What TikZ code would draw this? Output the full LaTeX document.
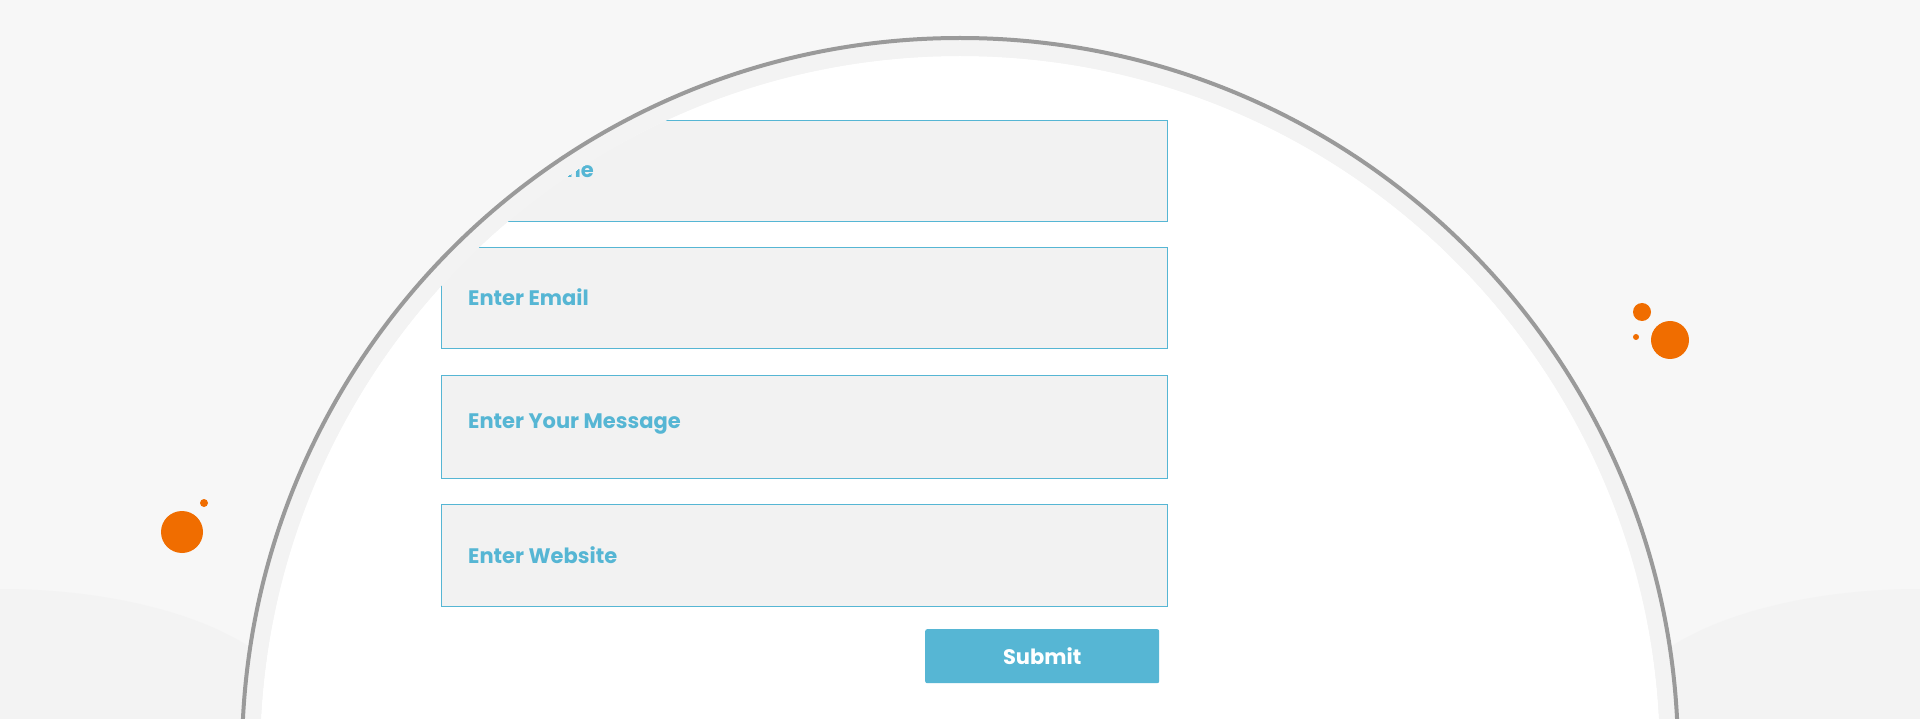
\documentclass[tikz,border=0pt]{standalone}
\usepackage{fontspec}
\setmainfont{Poppins}
\definecolor{bg}{HTML}{F7F7F7}
\definecolor{band}{HTML}{F3F3F3}
\definecolor{ring}{HTML}{9A9A9A}
\definecolor{fieldfill}{HTML}{F2F2F2}
\definecolor{blue}{HTML}{56B6D4}
\definecolor{orange}{HTML}{F06D00}
\tikzset{
  field/.style={draw=blue, line width=1pt, fill=fieldfill, minimum width=726pt, anchor=north west, inner sep=0pt},
  ftext/.style={anchor=west, text=blue, font=\fontsize{21}{24}\selectfont\bfseries, inner sep=0pt},
  dot/.style={circle, fill=orange, inner sep=0pt}
}
\begin{document}
\begin{tikzpicture}[x=1pt,y=-1pt]
\useasboundingbox (0,0) rectangle (1920,719);
\fill[bg] (0,0) rectangle (1920,719);
\fill[gray!12, opacity=0.5] (0,719) ellipse (300 and 130);
\fill[gray!12, opacity=0.5] (1920,719) ellipse (300 and 130);
\fill[white] (960,756) circle (700);
\begin{scope}
\clip (960,756) circle (700);
\node[field, minimum height=101pt] (f1) at (441,120) {};
\node[field, minimum height=101pt] (f2) at (441,247) {};
\node[field, minimum height=103pt] (f3) at (441,375) {};
\node[field, minimum height=102pt] (f4) at (441,504) {};
\node[ftext] (t1) at (468,170) {Enter Name};
\node[ftext] (t2) at (468,297) {Enter Email};
\node[ftext] (t3) at (468,424) {Enter Your Message};
\node[ftext] (t4) at (468,555) {Enter Website};
\end{scope}
\fill[band, even odd rule] (960,756) circle (716) (960,756) circle (700);
\draw[ring, line width=4pt] (960,756) circle (718);
\node[fill=blue, rounded corners=2pt, minimum width=234pt, minimum height=54pt, anchor=north west, inner sep=0pt] (sub) at (925,629) {};
\node[text=white, font=\fontsize{21}{24}\selectfont\bfseries] (st) at (sub.center) {Submit};
\node[dot, minimum size=18pt] (d1) at (1642,312) {};
\node[dot, minimum size=38pt] (d2) at (1670,340) {};
\node[dot, minimum size=6pt] (d3) at (1636,337) {};
\node[dot, minimum size=42pt] (d4) at (182,532) {};
\node[dot, minimum size=8pt] (d5) at (204,503) {};
\end{tikzpicture}
\end{document}
